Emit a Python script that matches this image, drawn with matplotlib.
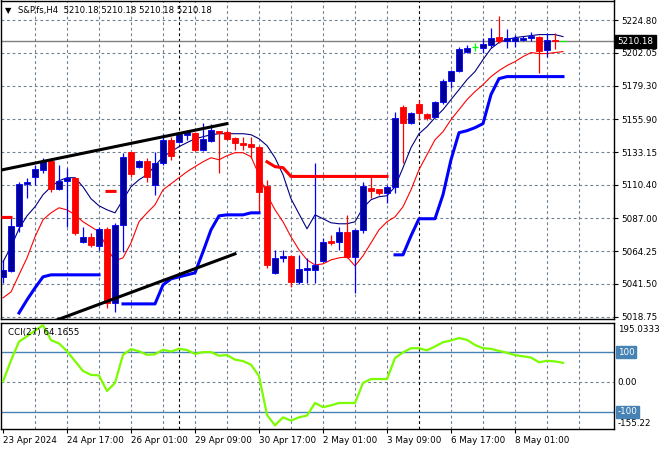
import numpy as np
import matplotlib.pyplot as plt

plt.rcParams['font.family'] = ['DejaVu Sans']
plt.rcParams['font.size'] = 6.3

# ---------------------------------------------------------------------------
# S&P.fs H4 bars (index 0 = 23 Apr 2024)
# ---------------------------------------------------------------------------
opens = [5046.4, 5050.6, 5081.9, 5111.1, 5116.0, 5120.9, 5127.1, 5107.6, 5113.2, 5115.3,
         5070.7, 5074.2, 5068.0, 5079.8, 5028.3, 5082.6, 5133.4, 5122.9, 5127.1, 5110.4,
         5125.7, 5141.7, 5140.4, 5145.2, 5146.6, 5134.8, 5141.0, 5148.0, 5147.3, 5143.1,
         5139.7, 5139.0, 5136.9, 5109.7, 5049.2, 5059.6, 5061.0, 5042.9, 5051.2, 5051.2,
         5057.5, 5071.4, 5070.7, 5077.7, 5060.3, 5079.1, 5108.3, 5107.6, 5104.8, 5109.0,
         5164.7, 5153.6, 5166.8, 5159.8, 5157.8, 5168.2, 5182.8, 5189.8, 5203.0, 5206.5,
         5205.8, 5207.9, 5213.4, 5210.0, 5210.0, 5210.7, 5212.1, 5213.4, 5204.4, 5211.0,
         5210.18]
highs = [5058.2, 5087.5, 5112.5, 5115.3, 5124.3, 5129.2, 5129.2, 5124.3, 5122.3, 5116.0,
         5081.2, 5077.0, 5081.2, 5081.2, 5084.0, 5132.7, 5133.4, 5127.8, 5129.2, 5133.4,
         5145.9, 5143.8, 5147.3, 5148.7, 5147.3, 5153.6, 5152.9, 5148.0, 5148.7, 5143.8,
         5143.8, 5143.8, 5137.6, 5113.9, 5065.2, 5065.2, 5061.7, 5061.7, 5059.6, 5125.7,
         5073.5, 5075.6, 5081.2, 5089.5, 5079.8, 5112.5, 5117.4, 5107.6, 5110.4, 5161.2,
         5166.1, 5161.2, 5169.6, 5160.5, 5168.9, 5184.2, 5190.5, 5206.5, 5207.9, 5209.3,
         5212.7, 5219.7, 5227.4, 5219.0, 5214.8, 5214.1, 5216.9, 5214.1, 5216.2, 5216.2,
         5210.18]
lows = [5042.2, 5049.9, 5077.7, 5101.4, 5110.4, 5118.8, 5105.5, 5106.5, 5081.2, 5075.6,
        5070.2, 5067.3, 5065.2, 5024.8, 5022.0, 5063.8, 5116.0, 5122.3, 5112.5, 5103.5,
        5124.3, 5127.8, 5139.7, 5141.7, 5134.1, 5134.1, 5140.4, 5118.8, 5141.7, 5134.8,
        5134.8, 5129.2, 5091.6, 5052.6, 5048.5, 5056.8, 5039.4, 5041.5, 5042.2, 5042.2,
        5057.0, 5068.7, 5065.2, 5059.6, 5035.2, 5077.0, 5101.4, 5103.5, 5097.9, 5104.8,
        5125.7, 5152.9, 5155.7, 5155.7, 5157.1, 5166.8, 5177.9, 5189.1, 5202.3, 5203.7,
        5202.3, 5205.8, 5209.3, 5205.8, 5206.5, 5210.0, 5210.0, 5188.4, 5199.5, 5205.1,
        5210.18]
closes = [5051.3, 5081.9, 5111.1, 5112.5, 5121.6, 5127.1, 5107.6, 5113.2, 5115.3, 5077.0,
          5074.2, 5068.7, 5079.8, 5028.3, 5082.6, 5129.9, 5118.1, 5127.1, 5116.0, 5125.7,
          5141.7, 5130.6, 5145.9, 5147.3, 5134.8, 5142.4, 5148.7, 5146.6, 5142.4, 5139.7,
          5138.3, 5136.9, 5105.5, 5054.7, 5059.6, 5061.0, 5042.9, 5051.9, 5052.6, 5054.7,
          5070.7, 5070.0, 5077.7, 5060.3, 5079.1, 5109.7, 5106.2, 5104.8, 5109.0, 5157.1,
          5153.6, 5160.5, 5160.5, 5157.1, 5168.2, 5182.8, 5189.8, 5205.1, 5205.8, 5206.5,
          5208.6, 5212.7, 5210.0, 5212.1, 5212.7, 5212.1, 5214.1, 5203.7, 5210.7, 5210.2,
          5210.18]

# moving averages (thin navy / thin red)
ma_fast = [5056.8, 5067.3, 5079.8, 5088.8, 5095.1, 5103.5, 5109.0, 5113.2, 5115.3, 5115.3,
           5109.0, 5100.7, 5095.8, 5093.0, 5090.9, 5100.0, 5109.0, 5113.9, 5117.4, 5123.6,
           5129.9, 5133.4, 5136.9, 5139.7, 5142.4, 5143.8, 5145.2, 5145.9, 5145.9, 5145.9,
           5145.9, 5145.2, 5142.4, 5137.6, 5129.2, 5117.4, 5100.7, 5090.2, 5079.8, 5089.5,
           5086.8, 5084.0, 5083.3, 5083.3, 5084.7, 5094.4, 5100.0, 5102.1, 5102.8, 5109.0,
           5122.3, 5136.2, 5145.9, 5150.8, 5157.1, 5162.6, 5169.6, 5176.5, 5183.5, 5189.1,
           5197.4, 5205.1, 5209.3, 5211.4, 5212.7, 5213.4, 5214.1, 5214.8, 5214.8, 5214.8,
           5213.4]
ma_slow = [5031.8, 5035.9, 5047.8, 5059.6, 5074.2, 5086.1, 5090.9, 5094.4, 5093.0, 5089.5,
           5084.7, 5081.2, 5077.7, 5066.6, 5057.5, 5059.6, 5070.0, 5084.7, 5090.9, 5096.5,
           5106.9, 5111.1, 5115.3, 5119.5, 5123.0, 5126.4, 5129.2, 5127.8, 5130.6, 5132.7,
           5132.7, 5129.9, 5117.4, 5103.5, 5093.0, 5084.7, 5074.2, 5065.2, 5058.2, 5054.7,
           5055.4, 5058.2, 5059.6, 5060.3, 5054.0, 5061.0, 5070.0, 5079.1, 5084.7, 5088.1,
           5095.1, 5106.9, 5120.9, 5131.3, 5141.7, 5147.3, 5155.7, 5162.6, 5169.6, 5175.2,
           5180.0, 5185.6, 5189.8, 5193.3, 5196.0, 5199.5, 5202.3, 5201.6, 5201.6, 5202.3,
           5203.0]

nan = np.nan
# trailing stop: blue below price (uptrend), red above price (downtrend)
trail_up = [nan, nan, 5021.3, 5030.4, 5038.7, 5046.4, 5047.8, 5047.8, 5047.8, 5047.8,
            5047.8, 5047.8, 5047.8, nan, nan, 5027.6, 5027.6, 5027.6, 5027.6, 5027.6,
            5040.8, 5045.0, 5046.4, 5047.8, 5049.2, 5063.8, 5079.1, 5088.8, 5089.5, 5089.5,
            5089.5, 5090.9, 5090.9, nan, nan, nan, nan, nan, nan, nan,
            nan, nan, nan, nan, nan, nan, nan, nan, nan, 5061.7,
            5061.7, 5074.9, 5086.8, 5086.8, 5086.8, 5103.5, 5127.8, 5146.6, 5148.0, 5150.1,
            5152.9, 5173.1, 5184.2, 5185.6, 5185.6, 5185.6, 5185.6, 5185.6, 5185.6, 5185.6,
            5185.6]
trail_dn = [5087.7, 5087.7, nan, nan, nan, nan, nan, nan, nan, nan,
            nan, nan, nan, 5105.8, 5105.8, nan, nan, nan, nan, nan,
            nan, nan, nan, nan, nan, nan, nan, nan, nan, nan,
            nan, nan, nan, 5126.4, 5123.0, 5122.3, 5116.2, 5116.2, 5116.2, 5116.2,
            5116.2, 5116.2, 5116.2, 5116.2, 5116.2, 5116.2, 5116.2, 5116.2, 5116.2, nan,
            nan, nan, nan, nan, nan, nan, nan, nan, nan, nan,
            nan, nan, nan, nan, nan, nan, nan, nan, nan, nan,
            nan]

# hand-drawn channel lines (bar index, price)
upper_line_x = [0, 28]
upper_line_y = [5120.9, 5152.9]
lower_line_x = [3, 29]
lower_line_y = [5008.7, 5062.4]

separator_bars = [22, 52]

cci = [2, 72, 135, 153, 172, 190, 140, 129, 103, 70,
       37, 24, 22, -30, -3, 91, 110, 103, 91, 93,
       108, 102, 111, 107, 94, 100, 100, 88, 90, 75,
       70, 58, 20, -110, -145, -118, -129, -118, -112, -70,
       -84, -78, -70, -70, -70, -3, 10, 10, 10, 80,
       99, 113, 113, 106, 119, 133, 139, 147, 141, 124,
       113, 111, 104, 98, 90, 86, 82, 66, 71, 69,
       64.1655]

price_levels = [5224.80, 5202.05, 5179.30, 5155.90, 5133.15,
                5110.40, 5087.00, 5064.25, 5041.50, 5018.75]
last_price = 5210.18

time_bars = [0, 8, 16, 24, 32, 40, 48, 56, 64]
time_labels = ['23 Apr 2024', '24 Apr 17:00', '26 Apr 01:00', '29 Apr 09:00',
               '30 Apr 17:00', '2 May 01:00', '3 May 09:00', '6 May 17:00',
               '8 May 01:00']

GRID = '#708090'
BULL = '#0000FF'
BEAR = '#FF0000'
DOJI = '#00FF00'
LEVEL = '#4682B4'

# ---------------------------------------------------------------------------
W, H = 660, 450
fig = plt.figure(figsize=(W / 100, H / 100), dpi=100)
fig.patch.set_facecolor('white')


def px_axes(left, top, right, bottom):
    return fig.add_axes([left / W, 1 - bottom / H, (right - left) / W, (bottom - top) / H])


ax = px_axes(1, 0.5, 614, 319)
ax2 = px_axes(1, 322.5, 614, 429)

xlim = (-0.25, 76.375)
grid_bars = [b for b in range(4, 73, 4) if b not in separator_bars]

for a in (ax, ax2):
    a.set_xlim(*xlim)
    for s in a.spines.values():
        s.set_color('black')
        s.set_linewidth(1.0)
    for b in grid_bars:
        a.axvline(b, color=GRID, lw=0.8, dashes=(2.5, 2.5), zorder=0)
    for b in separator_bars:
        a.axvline(b, color='black', lw=0.8, dashes=(2.5, 2.5), zorder=0.5)

# ---- price panel ----
o, h, l, c = map(np.array, (opens, highs, lows, closes))
idx = np.arange(len(o))
up, dn, fl = c > o, c < o, c == o

ax.set_ylim(5017.1, 5238.5)
for p in price_levels:
    ax.axhline(p, color=GRID, lw=0.8, dashes=(2.5, 2.5), zorder=0)
ax.axhline(last_price, color='#808080', lw=1.0, zorder=0.6)

ax.plot(idx, ma_fast, color='#000080', lw=0.8, zorder=2)
ax.plot(idx, ma_slow, color='#FF0000', lw=0.8, zorder=2)

ax.vlines(idx[up], l[up], h[up], color=BULL, lw=0.9, zorder=3)
ax.vlines(idx[dn], l[dn], h[dn], color=BEAR, lw=0.9, zorder=3)
ax.vlines(idx[fl], l[fl], h[fl], color=DOJI, lw=0.9, zorder=3)
ax.bar(idx[up], (c - o)[up], bottom=o[up], width=0.65, color='#000099',
       edgecolor=BULL, lw=0.6, zorder=4)
ax.bar(idx[dn], (o - c)[dn], bottom=c[dn], width=0.65, color=BEAR,
       edgecolor=BEAR, lw=0.6, zorder=4)
ax.hlines(c[fl], idx[fl] - 0.35, idx[fl] + 0.35, color=DOJI, lw=0.9, zorder=4)

ax.plot(idx, trail_up, color='#0000FF', lw=2.2, zorder=5)
ax.plot(idx, trail_dn, color='#FF0000', lw=2.2, zorder=5)
ax.plot(upper_line_x, upper_line_y, color='black', lw=2.2, zorder=6)
ax.plot(lower_line_x, lower_line_y, color='black', lw=2.2, zorder=6)

ax.set_xticks([])
ax.yaxis.tick_right()
ax.set_yticks(price_levels)
ax.set_yticklabels([f'{p:.2f}' for p in price_levels])
ax.tick_params(axis='y', length=3, width=0.8, pad=2, labelsize=6.3)
ax.text(1.006, last_price, f'{last_price:.2f}', transform=ax.get_yaxis_transform(),
        color='white', va='center', ha='left', fontsize=6.3,
        bbox=dict(boxstyle='square,pad=0.25', fc='black', ec='black'))

ax.text(4 / 613, 0.969, '\u25bc', transform=ax.transAxes, fontsize=6, va='center', ha='left')
ax.text(17 / 613, 0.969, 'S&P.fs,H4  5210.18 5210.18 5210.18 5210.18',
        transform=ax.transAxes, va='center', ha='left', fontsize=6.1)

# ---- CCI panel ----
ax2.set_ylim(-157, 199)
ax2.axhline(0, color=GRID, lw=0.8, dashes=(2.5, 2.5), zorder=0)
ax2.axhline(100, color=LEVEL, lw=1.0, zorder=1)
ax2.axhline(-100, color=LEVEL, lw=1.0, zorder=1)
ax2.plot(idx, cci, color='#7CFC00', lw=1.6, zorder=3)
ax2.text(7 / 613, 0.905, 'CCI(27) 64.1655', transform=ax2.transAxes,
         va='center', ha='left', fontsize=6.3)

ax2.set_yticks([])
ytr = ax2.get_yaxis_transform()
ax2.text(1.006, 0.93, '195.0333', transform=ax2.transAxes, va='center', ha='left', fontsize=6.3)
ax2.text(1.006, 0.05, '-155.22', transform=ax2.transAxes, va='center', ha='left', fontsize=6.3)
ax2.text(1.006, 0, '0.00', transform=ytr, va='center', ha='left', fontsize=6.3)
for v, s in [(100, '100'), (-100, '-100')]:
    ax2.text(1.006, v, s, transform=ytr, va='center', ha='left', fontsize=6.3,
             color='white', bbox=dict(boxstyle='square,pad=0.2', fc=LEVEL, ec=LEVEL))

ax2.set_xticks(time_bars)
ax2.set_xticklabels(time_labels, ha='left')
ax2.tick_params(axis='x', length=3, width=0.8, pad=2, labelsize=6.3)

fig.savefig('out.png', dpi=100, facecolor='white')
